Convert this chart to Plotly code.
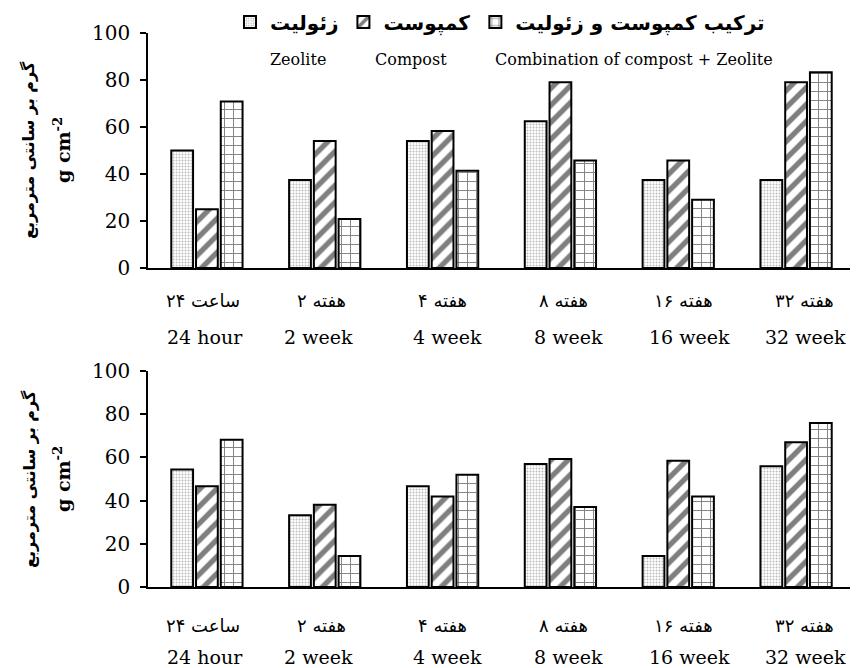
import plotly.graph_objects as go

categories = ["24 hour", "2 week", "4 week", "8 week", "16 week", "32 week"]
cat_fa = ["۲۴ ساعت", "۲ هفته", "۴ هفته", "۸ هفته", "۱۶ هفته", "۳۲ هفته"]
series_fa = ["زئولیت", "کمپوست", "ترکیب کمپوست و زئولیت"]
series_en = ["Zeolite", "Compost", "Combination of compost + Zeolite"]

top_zeolite = [50, 37.5, 54, 62.5, 37.5, 37.5]
top_compost = [25, 54, 58.3, 79, 45.7, 79]
top_combo = [70.8, 20.8, 41.4, 45.7, 29, 83.3]

bot_zeolite = [54.4, 33.2, 46.7, 57, 14.4, 55.9]
bot_compost = [46.7, 38.1, 41.9, 59.3, 58.5, 67]
bot_combo = [68.2, 14.4, 52, 37, 41.9, 75.9]

OFF = 8  # page body margin
W, H = 858 - OFF, 668 - OFF


def px(x):
    return (x - OFF) / W


def py(y):
    return 1 - (y - OFF) / H


patterns = [
    dict(shape=".", size=3, solidity=0.35, fgcolor="#777777", bgcolor="white"),
    dict(shape="/", size=12, solidity=0.45, fgcolor="black", bgcolor="white"),
    dict(shape="+", size=9, solidity=0.2, fgcolor="black", bgcolor="white"),
]

fig = go.Figure()
for panel, (data, xa, ya) in enumerate([
    ((top_zeolite, top_compost, top_combo), "x", "y"),
    ((bot_zeolite, bot_compost, bot_combo), "x2", "y2"),
]):
    for i, vals in enumerate(data):
        fig.add_trace(go.Bar(
            x=categories, y=vals, name=series_fa[i], xaxis=xa, yaxis=ya,
            marker=dict(color="white", pattern=patterns[i],
                        line=dict(color="black", width=2)),
            showlegend=(panel == 0), hoverinfo="skip",
        ))

serif = "DejaVu Serif"
axis_common_x = dict(type="category", range=[-0.5, 5.5], showline=True,
                     linecolor="black", linewidth=2, ticks="",
                     showticklabels=False, showgrid=False, zeroline=False)
axis_common_y = dict(range=[0, 100], dtick=20, showline=True, linecolor="black",
                     linewidth=1.5, ticks="outside", ticklen=6, tickwidth=1.5,
                     tickcolor="black", showgrid=False, zeroline=False,
                     tickfont=dict(family=serif, size=20, color="black"),
                     ticklabelstandoff=6)

fig.update_layout(
    width=W, height=H,
    margin=dict(l=0, r=0, t=0, b=0, autoexpand=False),
    plot_bgcolor="white", paper_bgcolor="white",
    barmode="group", bargap=0.37, bargroupgap=0.12,
    xaxis=dict(domain=[px(148), px(855)], anchor="y", **axis_common_x),
    yaxis=dict(domain=[py(268), py(33)], anchor="x", **axis_common_y),
    xaxis2=dict(domain=[px(148), px(855)], anchor="y2", **axis_common_x),
    yaxis2=dict(domain=[py(587), py(371)], anchor="x2", **axis_common_y),
    legend=dict(orientation="h", x=px(500), xanchor="center", y=py(22),
                yanchor="middle", traceorder="normal",
                font=dict(family="DejaVu Sans", size=20, color="black", weight="bold"),
                itemwidth=30, bgcolor="rgba(0,0,0,0)"),
)

ann = []
# English legend row
for txt, cx in zip(series_en, [298, 411, 634]):
    ann.append(dict(text=txt, x=px(cx), y=py(60), xref="paper", yref="paper",
                    showarrow=False, xanchor="center", yanchor="middle",
                    font=dict(family=serif, size=16, color="black")))

fa_shift = [-4, -3, 0, 3, 5, 8]
en_shift = [-2, -6, 5, 8, 11, 9]
for xa, yfa, yen in [("x", 300, 337), ("x2", 625, 657)]:
    for j, c in enumerate(categories):
        ann.append(dict(text=cat_fa[j], x=c, xref=xa, y=py(yfa), yref="paper",
                        xshift=fa_shift[j], showarrow=False, xanchor="center",
                        yanchor="middle",
                        font=dict(family="DejaVu Sans", size=18, color="black")))
        ann.append(dict(text=c, x=c, xref=xa, y=py(yen), yref="paper",
                        xshift=en_shift[j], showarrow=False, xanchor="center",
                        yanchor="middle",
                        font=dict(family=serif, size=19, color="black")))

for yc in [150, 479]:
    ann.append(dict(text="<b>گرم بر سانتی مترمربع</b>", x=px(29), y=py(yc),
                    xref="paper", yref="paper", textangle=-90, showarrow=False,
                    xanchor="center", yanchor="middle",
                    font=dict(family="DejaVu Sans", size=16, color="black")))
    ann.append(dict(text="<b>g cm<sup>-2</sup></b>", x=px(62), y=py(yc),
                    xref="paper", yref="paper", textangle=-90, showarrow=False,
                    xanchor="center", yanchor="middle",
                    font=dict(family=serif, size=19, color="black")))

fig.update_layout(annotations=ann)
fig.write_html("out.html")
